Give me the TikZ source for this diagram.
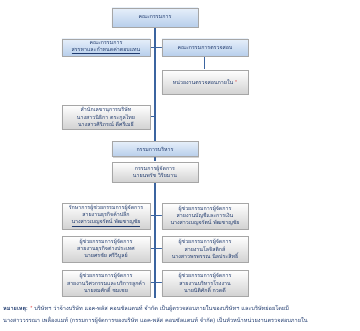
\documentclass[tikz,border=0pt]{standalone}
\usepackage{fontspec}
\newfontfamily\thai[Script=Thai]{Loma}
\usetikzlibrary{shadows,backgrounds}
\definecolor{txtblue}{HTML}{1F3A6E}
\definecolor{linecol}{HTML}{3B64A0}
\definecolor{bluetop}{HTML}{E6EFFA}
\definecolor{bluebot}{HTML}{B7CEEB}
\definecolor{graybot}{HTML}{D2D2D2}
\definecolor{notered}{HTML}{E03030}
\tikzset{
  boxbase/.style={draw=black!35, line width=0.4pt, inner sep=1pt, align=center,
    text=txtblue, font=\thai\fontsize{5.3}{7.3}\selectfont,
    drop shadow={shadow xshift=1pt, shadow yshift=-1.2pt, opacity=0.35}},
  bluebox/.style={boxbase, top color=bluetop, bottom color=bluebot},
  graybox/.style={boxbase, top color=white, bottom color=graybot},
  spine/.style={draw=linecol, line width=1.6pt},
  link/.style={draw=linecol, line width=1pt},
  notetext/.style={anchor=west, inner sep=0pt, text=txtblue, font=\thai\fontsize{5.6}{7}\selectfont}
}
\begin{document}
\begin{tikzpicture}[x=1pt,y=-1pt]
\useasboundingbox (0,0) rectangle (360,331);
% top
\node[bluebox, minimum width=86pt, minimum height=19pt] (board) at (155,17.5) {คณะกรรมการ};
\node[bluebox, minimum width=88pt, minimum height=17pt] (nom) at (106,47.5) {คณะกรรมการ\\\underline{สรรหาและกำหนดค่าตอบแทน}};
\node[bluebox, minimum width=86pt, minimum height=17pt] (audit) at (205,47.5) {คณะกรรมการตรวจสอบ};
\node[graybox, minimum width=86pt, minimum height=24pt] (ia) at (205,82) {หน่วยงานตรวจสอบภายใน \textcolor{notered}{*}};
\node[graybox, minimum width=88pt, minimum height=24pt] (sec) at (106,117) {สำนักเลขานุการบริษัท\\นางสาวนิธิกา ตระกูลไทย\\นางสาวศิริภรณ์ ดีศรีเมธี};
\node[bluebox, minimum width=86pt, minimum height=15pt] (exec) at (155,149) {กรรมการบริหาร};
\node[graybox, minimum width=86pt, minimum height=20pt] (md) at (155,172) {กรรมการผู้จัดการ\\นายนพรัช วิริยมาน};
% rows
\node[graybox, minimum width=88pt, minimum height=26pt] (L1) at (106,216) {รักษาการผู้ช่วยกรรมการผู้จัดการ\\สายงานธุรกิจค้าปลีก\\\underline{นางสาวเบญจรัตน์ พัฒชาญชัย}};
\node[graybox, minimum width=86pt, minimum height=26pt] (R1) at (205,216) {ผู้ช่วยกรรมการผู้จัดการ\\สายงานบัญชีและการเงิน\\นางสาวเบญจรัตน์ พัฒชาญชัย};
\node[graybox, minimum width=88pt, minimum height=26pt] (L2) at (106,249) {ผู้ช่วยกรรมการผู้จัดการ\\สายงานธุรกิจต่างประเทศ\\นายศรชัย ศรีวิบูลย์};
\node[graybox, minimum width=86pt, minimum height=26pt] (R2) at (205,249) {ผู้ช่วยกรรมการผู้จัดการ\\สายงานโลจิสติกส์\\นางสาวพรพรรณ นิลประสิทธิ์};
\node[graybox, minimum width=88pt, minimum height=26pt] (L3) at (106,283) {ผู้ช่วยกรรมการผู้จัดการ\\สายงานวิศวกรรมและบริการลูกค้า\\นายสมศักดิ์ ชมเชย};
\node[graybox, minimum width=86pt, minimum height=26pt] (R3) at (205,283) {ผู้ช่วยกรรมการผู้จัดการ\\สายงานบริหารโรงงาน\\นายนิติศักดิ์ กวดดี};
\coordinate (sb) at (155,298);
% note
\node[notetext] (note1) at (3,309) {\textbf{หมายเหตุ:} \textcolor{notered}{*} บริษัทฯ ว่าจ้างบริษัท แอค-พลัส คอนซัลแตนท์ จำกัด เป็นผู้ตรวจสอบภายในของบริษัทฯ และบริษัทย่อยโดยมี};
\node[notetext] (note2) at (3,320) {นางสาววรรณา เพลื่องแมท์ (กรรมการผู้จัดการของบริษัท แอค-พลัส คอนซัลแตนท์ จำกัด) เป็นหัวหน้าหน่วยงานตรวจสอบภายใน};
\begin{pgfonlayer}{background}
\draw[spine] (board.south) -- (sb);
\draw[link] (nom.east) -- (nom.east -| sb);
\draw[link] (audit.west) -- (audit.west -| sb);
\draw[link] (audit.south) -- (ia.north);
\draw[link] (sec.east) -- (sec.east -| sb);
\draw[link] (L1.east) -- (R1.west);
\draw[link] (L2.east) -- (R2.west);
\draw[link] (L3.east) -- (R3.west);
\end{pgfonlayer}
\end{tikzpicture}
\end{document}
